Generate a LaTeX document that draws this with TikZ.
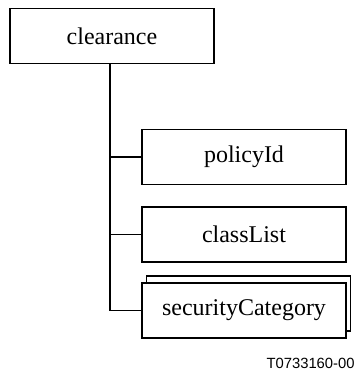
\documentclass[tikz,border=0pt]{standalone}
\usepackage{fontspec}
\setmainfont{Liberation Serif}
\newfontfamily\labelfont{Liberation Sans}
\usetikzlibrary{positioning, calc}

\begin{document}
\begin{tikzpicture}[x=0.5pt, y=-0.5pt,
    box/.style={draw, fill=white, line width=0.6pt, minimum width=102pt, minimum height=27.5pt, inner sep=0pt, font=\fontsize{12pt}{14pt}\selectfont},
    conn/.style={draw, line width=0.6pt},
    tag/.style={font=\labelfont\fontsize{7.4pt}{9pt}\selectfont, inner sep=0pt}
]
    \useasboundingbox (0,0) rectangle (360,371);

    \node[box] (clr) at (112,36) {clearance};
    \node[box] (pid) at (244,157) {policyId};
    \node[box] (cls) at (244,234.5) {classList};
    \node[box] (secb) at (248.5,303.5) {};
    \node[box] (sec) at (244,310.5) {securityCategory};
    \node[tag, anchor=east] (fig) at (355,363) {T0733160-00};

    \coordinate (trunk) at (110,63);

    \draw[conn] (trunk) |- (sec.west);
    \draw[conn] (pid.west) -- (pid.west -| trunk);
    \draw[conn] (cls.west) -- (cls.west -| trunk);
\end{tikzpicture}
\end{document}
